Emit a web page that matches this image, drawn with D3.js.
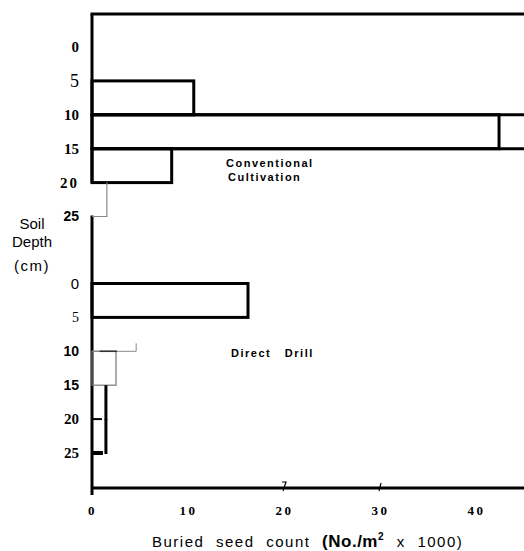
<!DOCTYPE html>
<html>
<head>
<meta charset="utf-8">
<script src="https://cdn.jsdelivr.net/npm/d3@7"></script>
<style>
  body { margin: 0; background: #fff; }
  svg { display: block; }
</style>
</head>
<body>
<script>
// depth bands (cm) and tick labels
var depthTicks = [0, 5, 10, 15, 20, 25];
var depthLabels = ["0", "5", "10", "15", "20", "25"];
var bandStart = [0, 5, 10, 15, 20];
var bandEnd = [5, 10, 15, 20, 25];

// buried seed counts (No./m2 x 1000)
var convValues = [0, 10.6, 42.4, 8.3, 1.55];
var drillValues = [16.25, 0, 2.5, 1.45, 1.45];
var drillCap = 4.6;          // whisker on the 10-15 band
var convRules = [10, 15];    // lines running out past the frame

var xTicks = [0, 10, 20, 30, 40];
var xMarks = [20, 30];

var W = 524, H = 551;
var margin = { left: 92, top: 14, axisY: 488 };

var svg = d3.select("body").append("svg")
  .attr("width", W).attr("height", H);

var x = d3.scaleLinear().domain([0, 45]).range([margin.left, W]);
var yConv = d3.scaleLinear().domain([0, 25]).range([47, 216.5]);
var yDrill = d3.scaleLinear().domain([0, 25]).range([283.5, 453]);

var serif = "'Liberation Serif', 'DejaVu Serif', serif";
var sans = "'Liberation Sans', Arial, sans-serif";

// per-label fonts, the scan mixes typefaces
var convFonts = [[serif, 700, 15, 0], [serif, 400, 18, 0], [serif, 700, 15, 0],
                 [serif, 700, 15, 0], [serif, 700, 15, 2], [sans, 700, 14, 0]];
var drillFonts = [[sans, 400, 15, 0], [serif, 400, 14, 0], [sans, 700, 14, 0],
                  [sans, 700, 14, 0], [serif, 700, 15, 0], [serif, 700, 15, 0]];

// frame: top line, broken left axis, bottom axis
svg.append("line")
  .attr("x1", margin.left - 1.5).attr("x2", W)
  .attr("y1", margin.top).attr("y2", margin.top)
  .attr("stroke", "#000").attr("stroke-width", 3);
svg.append("line")
  .attr("x1", margin.left).attr("x2", margin.left)
  .attr("y1", margin.top).attr("y2", yConv(20))
  .attr("stroke", "#000").attr("stroke-width", 3);
svg.append("line")
  .attr("x1", margin.left).attr("x2", margin.left)
  .attr("y1", yConv(25) - 1).attr("y2", 495)
  .attr("stroke", "#000").attr("stroke-width", 3);
svg.append("line")
  .attr("x1", margin.left).attr("x2", W)
  .attr("y1", margin.axisY).attr("y2", margin.axisY)
  .attr("stroke", "#000").attr("stroke-width", 3);

// conventional cultivation bars
convRules.forEach(function(d) {
  svg.append("line")
    .attr("x1", margin.left).attr("x2", W)
    .attr("y1", yConv(d)).attr("y2", yConv(d))
    .attr("stroke", "#000").attr("stroke-width", 3);
});

convValues.forEach(function(v, i) {
  if (!v) return;
  var y0 = yConv(bandStart[i]), y1 = yConv(bandEnd[i]);
  if (i === 4) {
    // faint step for the deepest band
    svg.append("path")
      .attr("d", "M" + [x(v), y0] + "L" + [x(v), y1] + "L" + [x(0), y1])
      .attr("fill", "none").attr("stroke", "#888").attr("stroke-width", 1.2);
  } else {
    svg.append("rect")
      .attr("x", x(0)).attr("y", y0)
      .attr("width", x(v) - x(0)).attr("height", y1 - y0)
      .attr("fill", "none").attr("stroke", "#000").attr("stroke-width", 3);
  }
});

// direct drill bars
drillValues.forEach(function(v, i) {
  if (!v) return;
  var y0 = yDrill(bandStart[i]), y1 = yDrill(bandEnd[i]);
  if (i === 2) {
    svg.append("rect")
      .attr("x", x(0)).attr("y", y0)
      .attr("width", x(v) - x(0)).attr("height", y1 - y0)
      .attr("fill", "none").attr("stroke", "#777").attr("stroke-width", 1.2);
    svg.append("path")
      .attr("d", "M" + [x(0), y0] + "L" + [x(drillCap), y0] + "L" + [x(drillCap), y0 - 8])
      .attr("fill", "none").attr("stroke", "#888").attr("stroke-width", 1);
    svg.append("line")
      .attr("x1", x(0.8)).attr("x2", x(2.6))
      .attr("y1", y0).attr("y2", y0)
      .attr("stroke", "#333").attr("stroke-width", 1.5);
  } else if (i >= 3) {
    // open-topped, heavy steps
    svg.append("line")
      .attr("x1", x(v)).attr("x2", x(v))
      .attr("y1", y0).attr("y2", y1 + 1)
      .attr("stroke", "#000").attr("stroke-width", 3);
    svg.append("line")
      .attr("x1", x(0)).attr("x2", x(v) - (i === 3 ? 4 : 3))
      .attr("y1", y1).attr("y2", y1)
      .attr("stroke", "#000").attr("stroke-width", i === 3 ? 2 : 4);
  } else {
    svg.append("rect")
      .attr("x", x(0)).attr("y", y0)
      .attr("width", x(v) - x(0)).attr("height", y1 - y0)
      .attr("fill", "none").attr("stroke", "#000").attr("stroke-width", 3);
  }
});

// depth tick labels
function depthAxis(scale, fonts) {
  var g = svg.append("g")
    .attr("transform", "translate(" + [margin.left, 0] + ")")
    .call(d3.axisLeft(scale).tickValues(depthTicks)
      .tickFormat(function(d, i) { return depthLabels[i]; })
      .tickSize(0).tickPadding(13));
  g.select(".domain").remove();
  g.selectAll("text")
    .attr("fill", "#000")
    .style("font-family", function(d, i) { return fonts[i][0]; })
    .style("font-weight", function(d, i) { return fonts[i][1]; })
    .style("font-size", function(d, i) { return fonts[i][2] + "px"; })
    .style("letter-spacing", function(d, i) { return fonts[i][3] + "px"; });
}
depthAxis(yConv, convFonts);
depthAxis(yDrill, drillFonts);

// x axis labels
var gx = svg.append("g")
  .attr("transform", "translate(" + [0, margin.axisY] + ")")
  .call(d3.axisBottom(x).tickValues(xTicks).tickSize(0).tickPadding(18));
gx.select(".domain").remove();
gx.selectAll("text")
  .attr("fill", "#000")
  .style("font-family", serif)
  .style("font-weight", 700)
  .style("font-size", "13px")
  .style("letter-spacing", "2.5px");

// stray tick marks on the axis
xMarks.forEach(function(d, i) {
  svg.append("path")
    .attr("d", i === 0
      ? "M" + [x(d) - 2, margin.axisY - 6] + "L" + [x(d) + 2, margin.axisY - 6] + "L" + [x(d) - 1, margin.axisY + 3]
      : "M" + [x(d) + 1, margin.axisY - 5] + "L" + [x(d) - 1, margin.axisY + 3])
    .attr("fill", "none").attr("stroke", "#000").attr("stroke-width", 1.2);
});

// axis titles
var title = svg.append("text")
  .attr("x", 152).attr("y", 547)
  .style("font-family", sans).style("font-size", "15px")
  .style("letter-spacing", "1.5px").style("word-spacing", "6px");
title.append("tspan").text("Buried seed count ");
title.append("tspan").style("font-weight", 700).style("font-size", "17px")
  .style("letter-spacing", "0.5px").text("(No./m");
title.append("tspan").style("font-weight", 700).style("font-size", "10px")
  .attr("dy", -7).text("2");
title.append("tspan").attr("dy", 7).text(" x 1000)");

var ylab = ["Soil", "Depth", "(cm)"];
var ylabY = [229, 247, 271];
ylab.forEach(function(t, i) {
  svg.append("text")
    .attr("x", 32).attr("y", ylabY[i])
    .attr("text-anchor", "middle")
    .style("font-family", sans).style("font-size", "15px")
    .style("letter-spacing", i === 2 ? "1.5px" : "0px")
    .text(t);
});

// panel labels
var panelText = [["Conventional", 226, 167], ["Cultivation", 228, 181], ["Direct   Drill", 231, 357]];
panelText.forEach(function(p) {
  svg.append("text")
    .attr("x", p[1]).attr("y", p[2])
    .style("font-family", sans).style("font-weight", 700)
    .style("font-size", "11px").style("letter-spacing", "1.5px")
    .style("white-space", "pre")
    .text(p[0]);
});
</script>
</body>
</html>
